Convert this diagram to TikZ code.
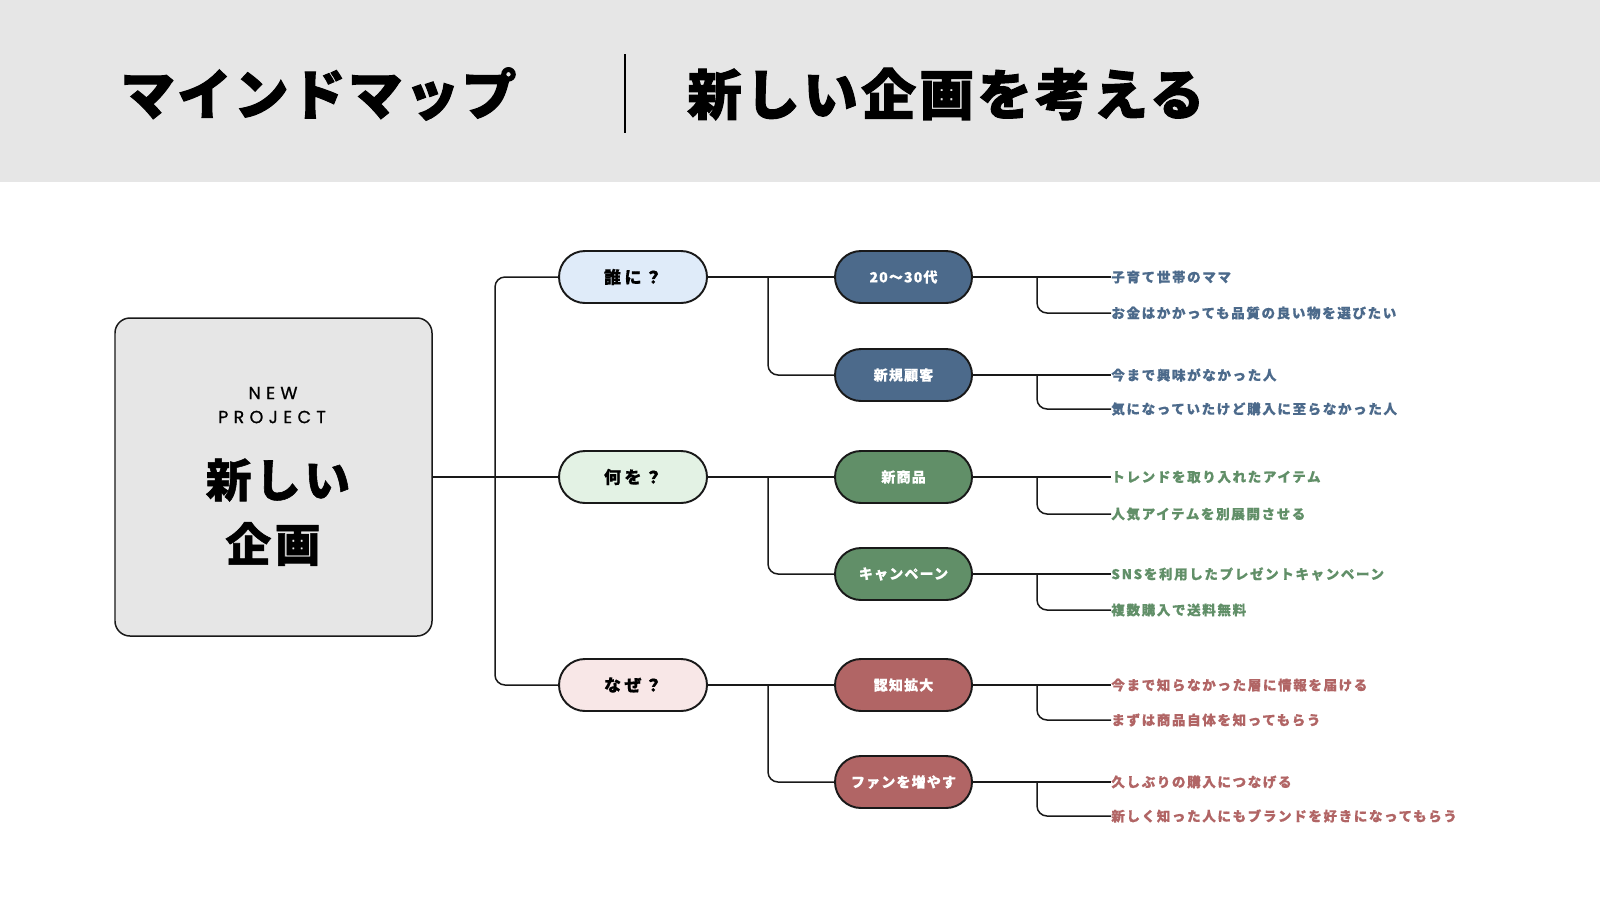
\documentclass[tikz,border=0pt]{standalone}
\usepackage{fontspec}
\usetikzlibrary{positioning}
\setmainfont{Noto Sans CJK JP}
\newfontfamily\jpfont{Noto Sans CJK JP}
\newfontfamily\latinfont{Poppins}

\definecolor{headgray}{HTML}{E6E6E6}
\definecolor{whoblue}{HTML}{4C6A8B}
\definecolor{whatgreen}{HTML}{618F68}
\definecolor{whyred}{HTML}{B16565}
\definecolor{wholight}{HTML}{DFEBF9}
\definecolor{whatlight}{HTML}{E3F2E4}
\definecolor{whylight}{HTML}{F8E7E7}

\tikzset{
  branch/.style={line width=0.85pt, draw=black!90, rounded corners=2mm},
  question/.style={draw=black!90, line width=1.1pt, rounded corners=5.2mm,
    minimum width=29.6mm, minimum height=10.4mm, inner sep=0pt,
    font=\jpfont\bfseries\fontsize{9.7}{11}\selectfont\addfontfeature{LetterSpace=20,FakeBold=0.6}},
  answer/.style={draw=black!90, line width=1.1pt, rounded corners=5.2mm,
    minimum width=27.4mm, minimum height=10.4mm, inner sep=0pt, text=white,
    font=\jpfont\bfseries\fontsize{8}{10}\selectfont\addfontfeature{LetterSpace=8,FakeBold=0.4}},
  detail/.style={anchor=west, inner sep=0pt,
    font=\jpfont\bfseries\fontsize{7.7}{9}\selectfont\addfontfeature{LetterSpace=12,FakeBold=0.4}}
}

\begin{document}
\begin{tikzpicture}[x=0.2mm, y=-0.2mm]
  \fill[white] (0,0) rectangle (1600,900);
  \useasboundingbox (0,0) rectangle (1600,900);
  % header
  \fill[headgray] (0,0) rectangle (1600,182);
  \node[anchor=west, inner sep=0pt, font=\jpfont\bfseries\fontsize{31}{36}\selectfont\addfontfeature{LetterSpace=4.5,FakeBold=2}] (maptitle) at (120,94) {マインドマップ};
  \node[anchor=west, inner sep=0pt, font=\jpfont\bfseries\fontsize{31}{36}\selectfont\addfontfeature{LetterSpace=6.5,FakeBold=2}] (theme) at (687,94) {新しい企画を考える};
  \draw[line width=0.7pt] (625,54) -- (625,133);

  % center
  \node[draw=black!90, fill=headgray, line width=0.85pt, rounded corners=3mm,
        minimum width=63.4mm, minimum height=63.6mm] (box) at (273.5,477) {};
  \node[font=\latinfont\fontsize{10}{12}\selectfont\addfontfeature{LetterSpace=30,FakeBold=0.8}] (newtxt) at (273,393) {NEW};
  \node[font=\latinfont\fontsize{10}{12}\selectfont\addfontfeature{LetterSpace=30,FakeBold=0.8}] (projtxt) at (272,417) {PROJECT};
  \node[font=\jpfont\bfseries\fontsize{26}{30}\selectfont\addfontfeature{LetterSpace=8,FakeBold=1.2}] (newbig) at (278,480) {新しい};
  \node[font=\jpfont\bfseries\fontsize{26}{30}\selectfont\addfontfeature{LetterSpace=8,FakeBold=1.2}] (planbig) at (273,544) {企画};

  % questions
  \node[question, fill=wholight] (who) at (633,277) {誰に？};
  \node[question, fill=whatlight] (what) at (633,477) {何を？};
  \node[question, fill=whylight] (why) at (633,685) {なぜ？};

  % answers
  \node[answer, fill=whoblue] (age) at (903.5,277) {20〜30代};
  \node[answer, fill=whoblue] (newc) at (903.5,375) {新規顧客};
  \node[answer, fill=whatgreen] (prod) at (903.5,477) {新商品};
  \node[answer, fill=whatgreen] (camp) at (903.5,574) {キャンペーン};
  \node[answer, fill=whyred] (aware) at (903.5,685) {認知拡大};
  \node[answer, fill=whyred] (fans) at (903.5,782) {ファンを増やす};

  % details
  \node[detail, text=whoblue] (age1) at (1111,277) {子育て世帯のママ};
  \node[detail, text=whoblue] (age2) at (1111,313) {お金はかかっても品質の良い物を選びたい};
  \node[detail, text=whoblue] (newc1) at (1111,375) {今まで興味がなかった人};
  \node[detail, text=whoblue] (newc2) at (1111,409) {気になっていたけど購入に至らなかった人};
  \node[detail, text=whatgreen] (prod1) at (1111,477) {トレンドを取り入れたアイテム};
  \node[detail, text=whatgreen] (prod2) at (1111,514) {人気アイテムを別展開させる};
  \node[detail, text=whatgreen] (camp1) at (1111,574) {SNSを利用したプレゼントキャンペーン};
  \node[detail, text=whatgreen] (camp2) at (1111,610) {複数購入で送料無料};
  \node[detail, text=whyred] (aware1) at (1111,685) {今まで知らなかった層に情報を届ける};
  \node[detail, text=whyred] (aware2) at (1111,720) {まずは商品自体を知ってもらう};
  \node[detail, text=whyred] (fans1) at (1111,782) {久しぶりの購入につなげる};
  \node[detail, text=whyred] (fans2) at (1111,816) {新しく知った人にもブランドを好きになってもらう};

  % junctions
  \coordinate (trunk) at (495,477);
  \coordinate (who-j) at (768,277);
  \coordinate (what-j) at (768,477);
  \coordinate (why-j) at (768,685);
  \coordinate (age-j) at (1037,277);
  \coordinate (newc-j) at (1037,375);
  \coordinate (prod-j) at (1037,477);
  \coordinate (camp-j) at (1037,574);
  \coordinate (aware-j) at (1037,685);
  \coordinate (fans-j) at (1037,782);

  % connectors
  \draw[branch] (box.east) -- (what.west);
  \draw[branch] (who.west) -| (trunk) |- (why.west);

  \draw[branch] (who.east) -- (age.west);
  \draw[branch] (who-j) |- (newc.west);
  \draw[branch] (what.east) -- (prod.west);
  \draw[branch] (what-j) |- (camp.west);
  \draw[branch] (why.east) -- (aware.west);
  \draw[branch] (why-j) |- (fans.west);

  \draw[branch] (age.east) -- (age1.west);
  \draw[branch] (age-j) |- (age2.west);
  \draw[branch] (newc.east) -- (newc1.west);
  \draw[branch] (newc-j) |- (newc2.west);
  \draw[branch] (prod.east) -- (prod1.west);
  \draw[branch] (prod-j) |- (prod2.west);
  \draw[branch] (camp.east) -- (camp1.west);
  \draw[branch] (camp-j) |- (camp2.west);
  \draw[branch] (aware.east) -- (aware1.west);
  \draw[branch] (aware-j) |- (aware2.west);
  \draw[branch] (fans.east) -- (fans1.west);
  \draw[branch] (fans-j) |- (fans2.west);
\end{tikzpicture}
\end{document}
